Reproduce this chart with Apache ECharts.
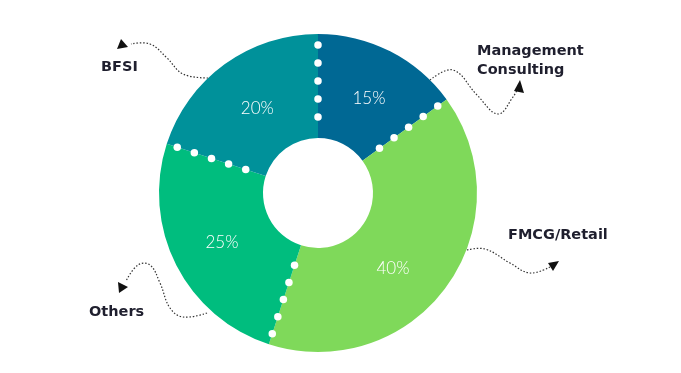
<!DOCTYPE html>
<html><head><meta charset="utf-8">
<script src="https://cdn.jsdelivr.net/npm/echarts@6/dist/echarts.min.js"></script>
<style>html,body{margin:0;padding:0;background:#fff}#c{width:681px;height:373px}</style>
</head><body><div id="c"></div>
<script>
const categories = ['Management Consulting', 'FMCG/Retail', 'Others', 'BFSI'];
const shares = [15, 40, 25, 20];
const colors = ['#006894', '#7fd95a', '#00bd7e', '#00919a'];
const labelLines = [['Management', 'Consulting'], ['FMCG/Retail'], ['Others'], ['BFSI']];
const dotRadii = [148, 130, 112, 94, 76];

const CX = 318, CY = 193, R0 = 55, R1 = 159;

// boundaries between slices (cumulative percent)
const bounds = [];
let acc = 0;
shares.forEach(v => { bounds.push(acc); acc += v; });
const dots = [];
bounds.forEach(b => dotRadii.forEach(r => dots.push([r, b])));

const labelFont = 'bold 14.5px "DejaVu Sans", sans-serif';
const txtColor = '#1f1f2e';
const lineStyle = { stroke: '#333', lineWidth: 1.2, lineDash: [1.5, 1.8], fill: null };

const annot = [
  { text: labelLines[0], x: 477, y: 42, pts: [[430,80],[453,70],[477,95],[498,114],[513,97],[518,88]], tri: [[520,80],[514,91],[524,93]] },
  { text: labelLines[1], x: 508, y: 226, pts: [[467,250],[485,249],[510,263],[530,273],[550,267]], tri: [[559,261],[548,263],[553,271]] },
  { text: labelLines[2], x: 89, y: 303, pts: [[207,313],[183,317],[170,308],[160,283],[150,265],[138,265],[126,281]], tri: [[119,293],[118,282],[128,287]] },
  { text: labelLines[3], x: 101, y: 58, pts: [[208,78],[183,74],[167,58],[150,44],[131,44]], tri: [[117,49],[121,39],[128,47]] }
];
const graphics = [];
annot.forEach(a => {
  graphics.push({ type: 'polyline', shape: { points: a.pts, smooth: 0.4 }, style: lineStyle, z: 10 });
  graphics.push({ type: 'polygon', shape: { points: a.tri }, style: { fill: '#111' }, z: 10 });
  graphics.push({ type: 'text', left: a.x, top: a.y, style: { text: a.text.join('\n'), font: labelFont, fill: txtColor, lineHeight: 19 }, z: 10 });
});

const labelShift = [{ dx: 1, dy: 4 }, { dx: -14, dy: 11 }, { dx: 2, dy: 0 }, { dx: 4, dy: 5 }];

const chart = echarts.init(document.getElementById('c'));
chart.setOption({
  animation: false,
  backgroundColor: '#fff',
  polar: { center: [CX, CY], radius: R1 },
  angleAxis: { type: 'value', min: 0, max: 100, startAngle: 90, clockwise: true, show: false },
  radiusAxis: { type: 'value', min: 0, max: R1, show: false },
  series: [
    {
      type: 'pie',
      center: [CX, CY],
      radius: [R0, R1],
      startAngle: 90,
      clockwise: true,
      data: categories.map((n, i) => ({ name: n, value: shares[i], itemStyle: { color: colors[i] } })),
      label: {
        position: 'inside',
        formatter: '{c}%',
        color: '#fff',
        fontSize: 17,
        fontWeight: 300,
        fontFamily: 'Lato, "Open Sans", sans-serif'
      },
      labelLayout: p => labelShift[p.dataIndex],
      labelLine: { show: false },
      emphasis: { disabled: true },
      z: 1
    },
    {
      type: 'scatter',
      coordinateSystem: 'polar',
      data: dots,
      symbol: 'circle',
      symbolSize: 7.5,
      itemStyle: { color: '#fff', opacity: 1 },
      silent: true,
      z: 5
    }
  ],
  graphic: graphics
});
</script></body></html>
